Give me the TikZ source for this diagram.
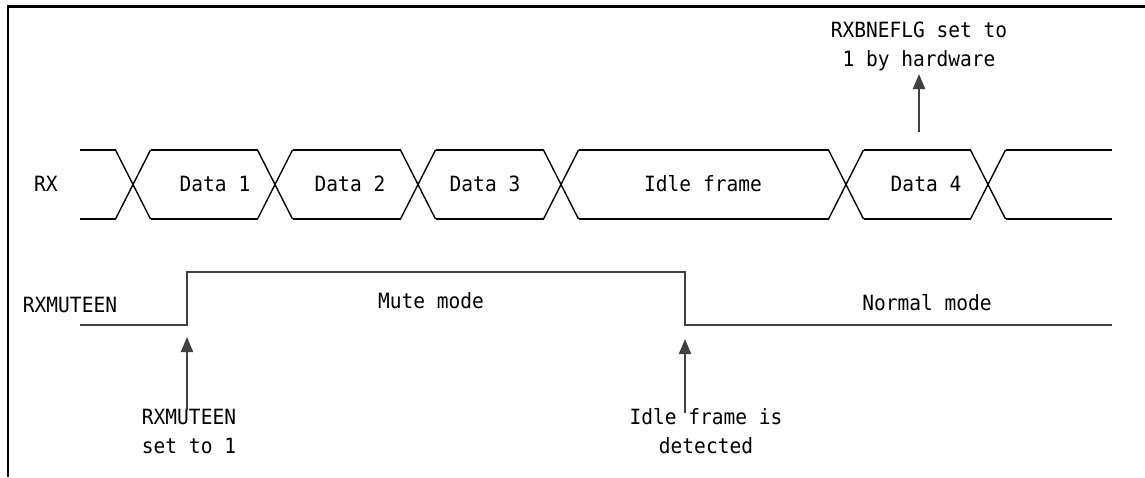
\documentclass[tikz,border=0pt]{standalone}
\usepackage{fontspec}
\newfontfamily\diagfont[FakeStretch=0.93]{DejaVu Sans Mono}
\usetikzlibrary{arrows.meta}
\definecolor{wavegray}{HTML}{404040}
\tikzset{
  lbl/.style={font=\diagfont\fontsize{21}{28.5}\selectfont, inner sep=0pt, align=center, text=black},
  rxline/.style={draw=black, line width=1.4pt},
  muteline/.style={draw=wavegray, line width=2pt},
  evarrow/.style={draw=wavegray, line width=2pt, -{Triangle[length=15pt,width=12pt]}, fill=wavegray},
  frameline/.style={draw=black, line width=2.4pt}
}
\begin{document}
\begin{tikzpicture}[x=1pt,y=-1pt]
\useasboundingbox (0,0) rectangle (1145,477);
% frame
\draw[frameline] (8,477) -- (8,6.5) -- (1145,6.5);

% RX bus
\def\ytop{150}\def\ybot{219}\def\hw{17.5}
\foreach \c in {133,275,418,561,846,988}{
  \draw[rxline] (\c-\hw,\ytop) -- (\c+\hw,\ybot);
  \draw[rxline] (\c-\hw,\ybot) -- (\c+\hw,\ytop);
}
\foreach \a/\b in {80/133,133/275,275/418,418/561,561/846,846/988,988/1112}{
  \pgfmathsetmacro\xa{\a==80 ? 80 : \a+\hw}
  \pgfmathsetmacro\xb{\b==1112 ? 1112 : \b-\hw}
  \draw[rxline] (\xa,\ytop) -- (\xb,\ytop);
  \draw[rxline] (\xa,\ybot) -- (\xb,\ybot);
}
\draw[draw=black, line width=2.6pt] (720,\ytop) -- (738,\ytop);
\draw[draw=black, line width=2.6pt] (663,\ybot) -- (685,\ybot);

\node[lbl] (rx) at (46,184) {RX};
\node[lbl] (d1) at (215,184) {Data 1};
\node[lbl] (d2) at (350,184) {Data 2};
\node[lbl] (d3) at (485,184) {Data 3};
\node[lbl] (idle) at (703,184) {Idle frame};
\node[lbl] (d4) at (926,184) {Data 4};

% RXMUTEEN waveform
\coordinate (rise) at (187,325);
\coordinate (fall) at (685,325);
\draw[muteline] (80,325) -- (rise) -- (187,272) -- (685,272) -- (fall) -- (1112,325);

\node[lbl] (mutesig) at (70,305) {RXMUTEEN};
\node[lbl] (mute) at (431,301) {Mute mode};
\node[lbl] (normal) at (927,303) {Normal mode};

% events
\node[lbl] (ev1) at (189,431.5) {RXMUTEEN\\set to 1};
\node[lbl] (ev2) at (706,431) {Idle frame is\\detected};
\node[lbl] (ev3) at (919,46.5) {RXBNEFLG set to\\1 by hardware};

\coordinate (a1s) at (187,410);
\coordinate (a1t) at (187,337);
\coordinate (a2s) at (685,413);
\coordinate (a2t) at (685,339);
\coordinate (a3s) at (919,132);
\coordinate (a3t) at (919,74);
\draw[evarrow] (a1s) -- (a1t);
\draw[evarrow] (a2s) -- (a2t);
\draw[evarrow] (a3s) -- (a3t);
\end{tikzpicture}
\end{document}
